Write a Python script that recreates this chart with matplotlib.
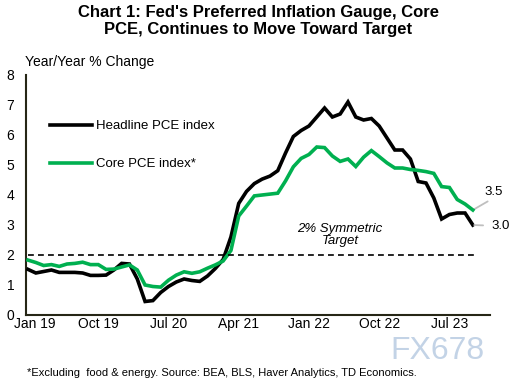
import matplotlib
matplotlib.use("Agg")
import matplotlib.pyplot as plt
import matplotlib.transforms as mtransforms

plt.rcParams['font.family'] = ['Liberation Sans', 'DejaVu Sans']

# ---- data (monthly, Jan 2019 - Oct 2023, year/year % change) ----
months = list(range(58))
tick_pos = [0, 9, 18, 27, 36, 45, 54]
tick_labels = ["Jan 19", "Oct 19", "Jul 20", "Apr 21", "Jan 22", "Oct 22", "Jul 23"]
yticks = list(range(0, 9))

headline = [
    1.52, 1.40, 1.45, 1.50, 1.42, 1.42, 1.42, 1.40, 1.32, 1.32, 1.33, 1.50,   # 2019
    1.72, 1.70, 1.20, 0.45, 0.48, 0.75, 0.95, 1.10, 1.20, 1.15, 1.12, 1.30,   # 2020
    1.55, 1.85, 2.60, 3.72, 4.12, 4.38, 4.53, 4.63, 4.81, 5.40, 5.95, 6.15,   # 2021
    6.30, 6.60, 6.90, 6.60, 6.70, 7.10, 6.60, 6.50, 6.55, 6.30, 5.90, 5.50,   # 2022
    5.50, 5.20, 4.45, 4.40, 3.90, 3.20, 3.35, 3.40, 3.40, 3.00,               # 2023
]
core = [
    1.83, 1.75, 1.65, 1.68, 1.62, 1.70, 1.72, 1.76, 1.68, 1.68, 1.52, 1.53,   # 2019
    1.60, 1.67, 1.50, 1.00, 0.95, 0.93, 1.16, 1.33, 1.44, 1.39, 1.44, 1.56,   # 2020
    1.67, 1.80, 2.15, 3.30, 3.63, 3.97, 4.00, 4.03, 4.06, 4.47, 4.94, 5.22,   # 2021
    5.35, 5.60, 5.58, 5.30, 5.12, 5.20, 4.95, 5.26, 5.48, 5.28, 5.07, 4.90,   # 2022
    4.90, 4.85, 4.82, 4.78, 4.72, 4.28, 4.25, 3.85, 3.70, 3.50,               # 2023
]
target = 2.0

BLACK = "#000000"
GREEN = "#00B050"
SPINE = "#262616"

fig = plt.figure(figsize=(5.16, 3.86), dpi=100)
ax = fig.add_axes([26 / 516, 1 - 315 / 386, (490 - 26) / 516, (315 - 75) / 386])

ax.plot(months, headline, color=BLACK, lw=2.6, solid_joinstyle='miter',
        label="Headline PCE index", zorder=3)
ax.plot(months, core, color=GREEN, lw=2.6, solid_joinstyle='miter',
        label="Core PCE index*", zorder=4)
ax.plot([months[0], months[-1] + 0.6], [target, target], color=BLACK, lw=1.2,
        linestyle=(0, (3.5, 2.5)), zorder=5)

ax.set_xlim(-0.26, 59.2)
ax.set_ylim(0, 8)
ax.set_xticks(tick_pos)
ax.set_xticklabels(tick_labels)
ax.set_yticks(yticks)
ax.tick_params(axis='both', length=0, labelsize=10, colors='#000000')
ax.tick_params(axis='x', pad=1.5)
ax.tick_params(axis='y', pad=8.5)

# nudge the first date label right so it clears the "0" label
first = ax.get_xticklabels()[0]
first.set_transform(first.get_transform() +
                    mtransforms.ScaledTranslation(7 / 100, 0, fig.dpi_scale_trans))

for s in ['top', 'right']:
    ax.spines[s].set_visible(False)
for s in ['left', 'bottom']:
    ax.spines[s].set_color(SPINE)
    ax.spines[s].set_linewidth(1.5)

leg = ax.legend(loc='upper left', bbox_to_anchor=((50 - 26) / 464, (315 - 120) / 240),
                frameon=False, fontsize=9.5, handlelength=3.2, handletextpad=0.3,
                labelspacing=1.95, borderpad=0, borderaxespad=0)

ax.text(40, 2.67, "2% Symmetric\nTarget", fontsize=9.5, style='italic',
        ha='center', va='center', linespacing=1.05)

ax.annotate(f"{core[-1]:.1f}", xy=(months[-1], core[-1]), xytext=(15, 13),
            textcoords='offset points', fontsize=9.5, ha='center', va='center',
            arrowprops=dict(arrowstyle='-', color='#bfbfbf', lw=1.3,
                            shrinkA=1, shrinkB=1, relpos=(0.5, 0)))
ax.annotate(f"{headline[-1]:.1f}", xy=(months[-1], headline[-1]), xytext=(20, -0.5),
            textcoords='offset points', fontsize=9.5, ha='center', va='center',
            arrowprops=dict(arrowstyle='-', color='#bfbfbf', lw=1.3,
                            shrinkA=4, shrinkB=1, relpos=(0, 0.5)))

fig.text(0.5, 1 - 21 / 386,
         "Chart 1: Fed's Preferred Inflation Gauge, Core\nPCE, Continues to Move Toward Target",
         fontsize=12, fontweight='bold', ha='center', va='center', linespacing=1.1)
fig.text(25 / 516, 1 - 62 / 386, "Year/Year % Change", fontsize=10,
         ha='left', va='center')
fig.text(27 / 516, 1 - 373 / 386,
         "*Excluding  food & energy. Source: BEA, BLS, Haver Analytics, TD Economics.",
         fontsize=8, ha='left', va='center')
fig.text(437 / 516, 1 - 351 / 386, "FX678", fontsize=23, color='#c3d3e6',
         ha='center', va='center')

fig.savefig("out.png", dpi=100)
